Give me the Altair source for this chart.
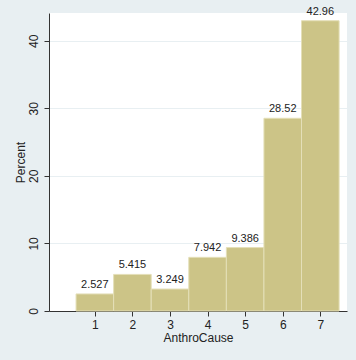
import altair as alt
import pandas as pd

categories = [1, 2, 3, 4, 5, 6, 7]
percents = [2.527, 5.415, 3.249, 7.942, 9.386, 28.52, 42.96]
labels = ["2.527", "5.415", "3.249", "7.942", "9.386", "28.52", "42.96"]
x_ticks = [1, 2, 3, 4, 5, 6, 7]
y_ticks = [0, 10, 20, 30, 40]

df = pd.DataFrame({"cat": categories, "pct": percents, "lab": labels})

FONT = "Liberation Sans"
BG = "#E8EFF2"
BAR = "#CCC487"
EDGE = "#E4DFB8"

base = alt.Chart(df).transform_calculate(
    x0="datum.cat - 0.5", x1="datum.cat + 0.5"
)

xs = alt.Scale(domain=[-0.22, 7.71], nice=False, zero=False)
ys = alt.Scale(domain=[0, 44.1], nice=False)

bars = base.mark_rect(fill=BAR, stroke=EDGE, strokeWidth=1).encode(
    x=alt.X("x0:Q", scale=xs, title="AnthroCause",
            axis=alt.Axis(values=x_ticks, grid=False, tickSize=5, labelPadding=3,
                          labelFontSize=12, titleFontSize=12, titlePadding=2,
                          titleFontWeight="normal", format="d")),
    x2="x1:Q",
    y=alt.Y("pct:Q", scale=ys, title="Percent",
            axis=alt.Axis(values=y_ticks, grid=True, gridColor=BG, gridWidth=1,
                          tickSize=5, labelAngle=270, labelAlign="center",
                          labelBaseline="bottom", labelPadding=4,
                          labelFontSize=12, titleFontSize=12, titlePadding=0,
                          titleFontWeight="normal", format="d")),
    y2=alt.datum(0),
)

texts = base.mark_text(baseline="bottom", dy=-4, fontSize=11, font=FONT,
                       color="#222222").encode(
    x=alt.X("cat:Q", scale=xs),
    y=alt.Y("pct:Q", scale=ys),
    text="lab:N",
)

chart = (bars + texts).properties(
    width=298, height=298, background=BG,
    autosize=alt.AutoSizeParams(type="none"),
    padding={"left": 49, "top": 13, "right": 9, "bottom": 49},
).configure_view(fill="white", stroke=None).configure_axis(
    domainColor="#333333", tickColor="#333333", labelColor="#222222",
    titleColor="#222222", labelFont=FONT, titleFont=FONT,
    domainWidth=1, tickWidth=1,
)

chart.save("out.html", embed_options={"renderer": "svg", "actions": False})
